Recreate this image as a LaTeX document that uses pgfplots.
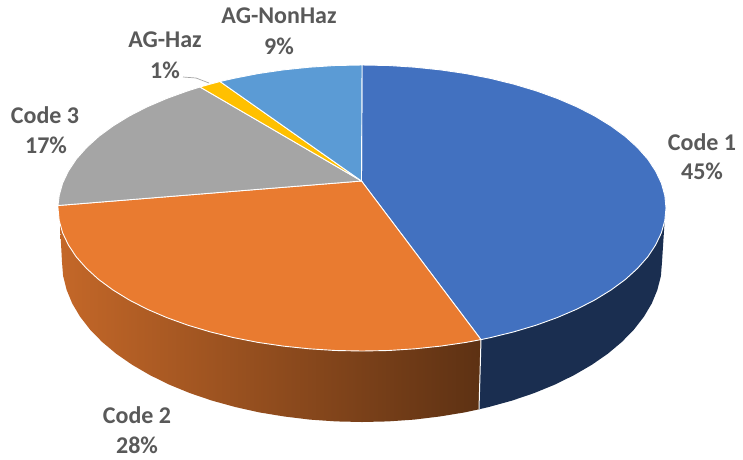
\documentclass[border=0pt]{standalone}
\usepackage{pgfplots}
\pgfplotsset{compat=1.18}
\usepackage{fontspec}
\setmainfont{Carlito}

\definecolor{codeone}{HTML}{4271C0}
\definecolor{codeoneside}{HTML}{1A2E50}
\definecolor{codetwo}{HTML}{E97B30}
\definecolor{codethree}{HTML}{A5A5A5}
\definecolor{aghaz}{HTML}{FFC000}
\definecolor{agnon}{HTML}{5B9BD5}
\definecolor{labelgrey}{HTML}{595959}

\tikzset{lab/.style={text=labelgrey, font=\fontsize{24}{28}\selectfont\bfseries, inner sep=0pt, align=center}}

\begin{document}
\begin{tikzpicture}
\path[use as bounding box] (0,0) rectangle (743pt,459pt);
\begin{axis}[
    width=743pt, height=459pt,
    scale only axis,
    xmin=0, xmax=743, ymin=0, ymax=459,
    y dir=reverse,
    hide axis,
    clip=false,
]

% side walls, drawn first, the top face covers their upper edge
\addplot[fill=codeoneside, draw=none] coordinates {
    (665,215) (662,262) (660.9,275.9) (657.4,289.8) (651.8,303.4) (643.9,316.7)
    (633.9,329.6) (621.8,342) (607.7,353.8) (591.8,364.8) (574.1,375.1) (554.8,384.6)
    (534.1,393.1) (512,400.6) (488.8,407) (479,409.3) (481,330)
} --cycle;

\addplot[draw=none, left color=codetwo!84!black, middle color=codetwo!66!black, right color=codetwo!40!black] coordinates {
    (481,330) (479,409.3) (464.6,412.4) (439.6,416.5) (414.1,419.6) (388.1,421.4) (362,422)
    (335.9,421.4) (309.9,419.6) (284.4,416.5) (259.4,412.4) (235.2,407) (212,400.6)
    (189.9,393.1) (169.2,384.6) (149.9,375.1) (132.2,364.8) (116.3,353.8) (102.2,342)
    (90.1,329.6) (80.1,316.7) (72.2,303.4) (66.6,289.8) (63.1,275.9) (62,262) (60,225)
    (60,210) (200,300)
} --cycle;

\addplot[draw=white, line width=1pt] coordinates {(481,339.6) (479,409)};

% top face, slice by slice
% Code 1, 45%
\addplot[fill=codeone, draw=white, line width=0.9pt] coordinates {
    (361.5,181) (362,65) (388.5,65.5) (414.8,67.2) (440.7,69.9) (466,73.6) (490.5,78.4)
    (514,84.2) (536.4,90.9) (557.4,98.5) (577,106.9) (594.9,116.1) (611,126) (625.3,136.5)
    (637.5,147.6) (647.7,159.1) (655.6,171) (661.4,183.2) (664.8,195.5) (666,208)
    (664.8,220.5) (661.4,232.8) (655.6,245) (647.7,256.9) (637.5,268.4) (625.3,279.5)
    (611,290) (594.9,299.9) (577,309.1) (557.4,317.5) (536.4,325.1) (514,331.8)
    (490.5,337.6) (481,339.6)
} --cycle;

% Code 2, 28%
\addplot[fill=codetwo, draw=white, line width=0.9pt] coordinates {
    (361.5,181) (481,339.6) (466,342.4) (440.7,346.1) (414.8,348.8) (388.5,350.5) (362,351)
    (335.5,350.5) (309.2,348.8) (283.3,346.1) (258,342.4) (233.5,337.6) (210,331.8)
    (187.6,325.1) (166.6,317.5) (147,309.1) (129.1,299.9) (113,290) (98.7,279.5)
    (86.5,268.4) (76.3,256.9) (68.4,245) (62.6,232.8) (59.2,220.5) (58,208) (58,205.5)
} --cycle;

% Code 3, 17%
\addplot[fill=codethree, draw=white, line width=0.9pt] coordinates {
    (361.5,181) (58,205.5) (59.2,195.5) (62.6,183.2) (68.4,171) (76.3,159.1) (86.5,147.6)
    (98.7,136.5) (113,126) (129.1,116.1) (147,106.9) (166.6,98.5) (187.6,90.9) (200,87)
} --cycle;

% AG-Haz, 1%
\addplot[fill=aghaz, draw=white, line width=0.9pt] coordinates {
    (361.5,181) (200,87) (210,84.2) (220,81.5)
} --cycle;

% AG-NonHaz, 9%
\addplot[fill=agnon, draw=white, line width=0.9pt] coordinates {
    (361.5,181) (220,81.5) (233.5,78.4) (258,73.6) (283.3,69.9) (309.2,67.2) (335.5,65.5) (362,65)
} --cycle;

% leader line of AG-Haz
\addplot[draw=codethree, line width=0.7pt] coordinates {(183,77) (196,78) (209,83)};

\node[lab] at (axis cs:702,142) {Code 1};
\node[lab] at (axis cs:702,171) {45\%};
\node[lab] at (axis cs:137,415) {Code 2};
\node[lab] at (axis cs:137,445) {28\%};
\node[lab] at (axis cs:45,115) {Code 3};
\node[lab] at (axis cs:46,145) {17\%};
\node[lab] at (axis cs:165,40) {AG-Haz};
\node[lab] at (axis cs:165,70) {1\%};
\node[lab] at (axis cs:279,16) {AG-NonHaz};
\node[lab] at (axis cs:279,46) {9\%};
\end{axis}
\end{tikzpicture}
\end{document}
